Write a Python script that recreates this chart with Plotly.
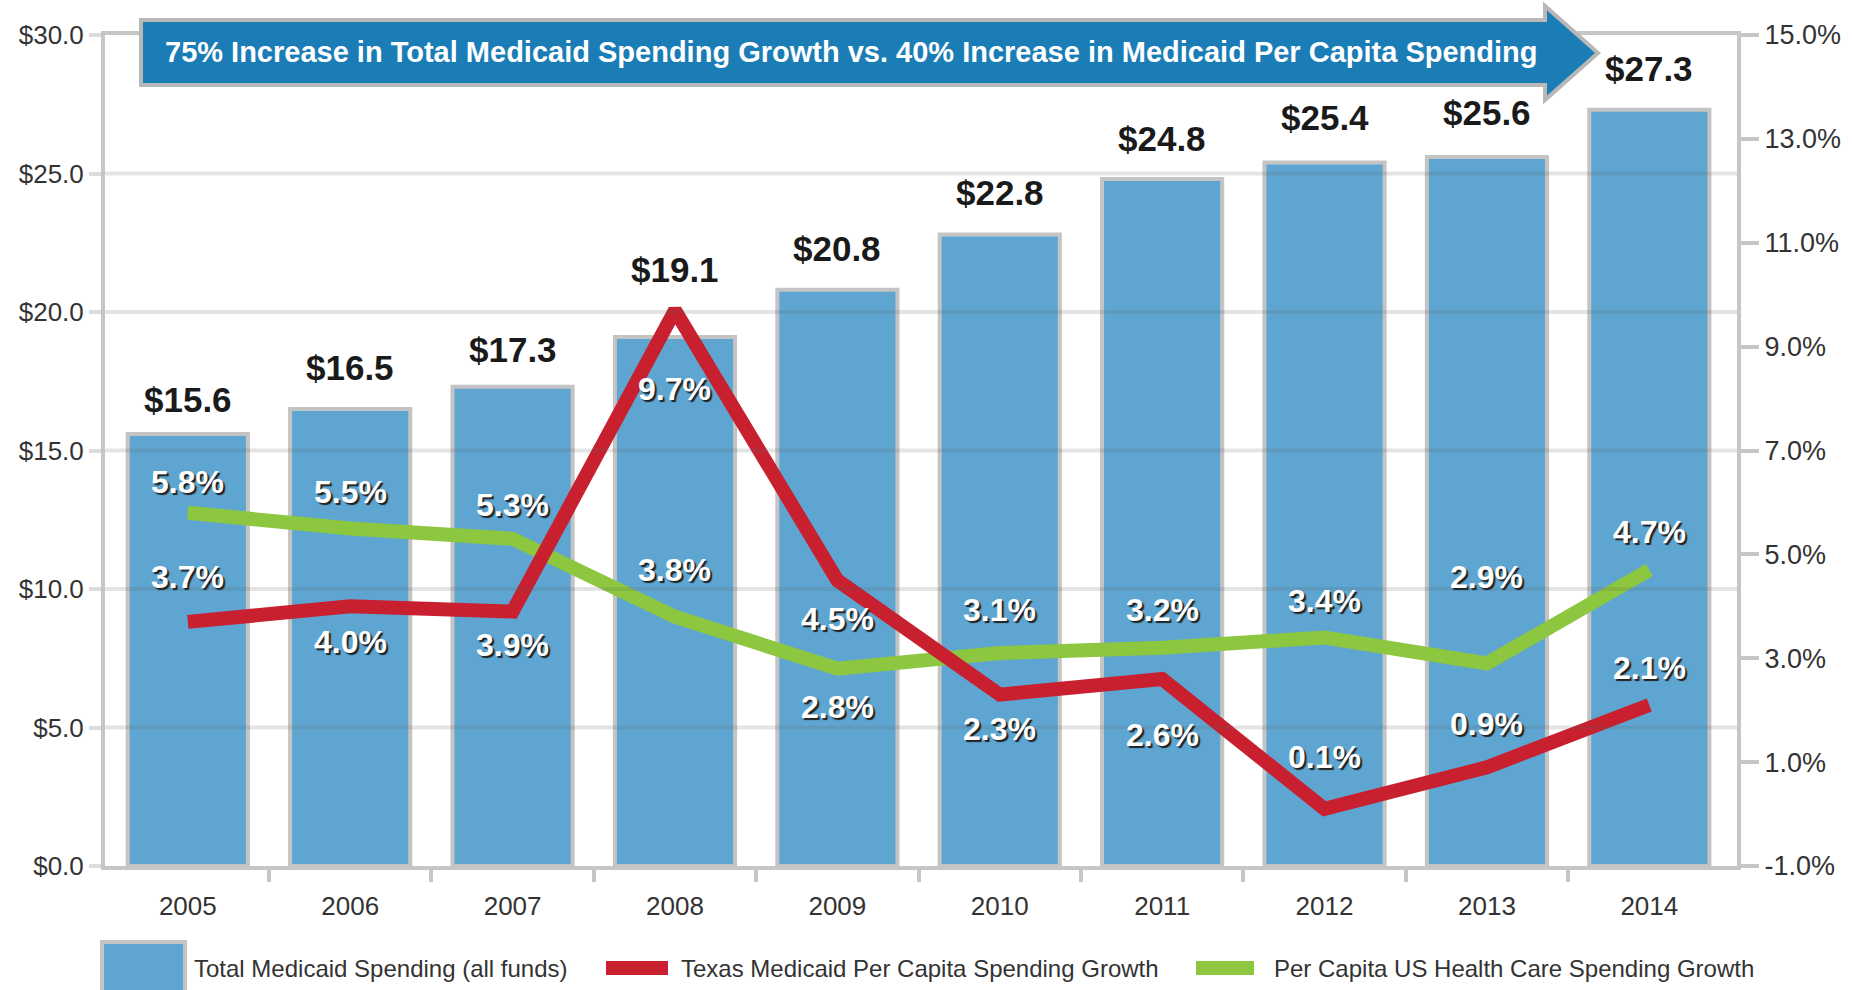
import plotly.graph_objects as go

# ---------------- data ----------------
years = [2005, 2006, 2007, 2008, 2009, 2010, 2011, 2012, 2013, 2014]
total_spending = [15.6, 16.5, 17.3, 19.1, 20.8, 22.8, 24.8, 25.4, 25.6, 27.3]   # $ billions
texas_growth = [3.7, 4.0, 3.9, 9.7, 4.5, 2.3, 2.6, 0.1, 0.9, 2.1]               # %
us_growth = [5.8, 5.5, 5.3, 3.8, 2.8, 3.1, 3.2, 3.4, 2.9, 4.7]                  # %
left_ticks = [0, 5, 10, 15, 20, 25, 30]
left_tick_text = ["$0.0", "$5.0", "$10.0", "$15.0", "$20.0", "$25.0", "$30.0"]
right_ticks = [-1, 1, 3, 5, 7, 9, 11, 13, 15]
right_tick_text = ["-1.0%", "1.0%", "3.0%", "5.0%", "7.0%", "9.0%", "11.0%", "13.0%", "15.0%"]
series_names = ["Total Medicaid Spending (all funds)",
                "Texas Medicaid Per Capita Spending Growth",
                "Per Capita US Health Care Spending Growth"]
header_text = ("75% Increase in Total Medicaid Spending Growth vs. "
               "40% Increase in Medicaid Per Capita Spending")

# ---------------- label placement (pixels, layout only) ----------------
spend_label_lift = [15, 22, 18, 48, 22, 22, 21, 25, 25, 22]
texas_label_shift = [45, -36, -33, -79, -39, -34, -56, 52, 43, 37]
us_label_shift = [31, 36, 34, 47, -38, 43, 38, 36, 86, 38]

# ---------------- style ----------------
W, H = 1852, 990
ML, MR, MT, MB = 105, 115, 35, 124
PW, PH = W - ML - MR, H - MT - MB
FONT = "Liberation Sans, Arial, sans-serif"
BAR_BLUE = "#5ea6d1"
RED = "#c8202f"
GREEN = "#8dc63f"
GRAY_LINE = "#c6c6c6"
TEXT = "#333333"


def px(xp):
    return (xp - ML) / PW


def py(yp):
    return (MT + PH - yp) / PH


fig = go.Figure()
fig.add_trace(go.Bar(
    x=years, y=total_spending, name=series_names[0], width=0.74,
    marker=dict(color=BAR_BLUE, line=dict(color="#c4c4c4", width=4)),
    showlegend=False))
fig.add_trace(go.Scatter(
    x=years, y=us_growth, yaxis="y2", mode="lines", name=series_names[2],
    line=dict(color=GREEN, width=14), showlegend=False))
fig.add_trace(go.Scatter(
    x=years, y=texas_growth, yaxis="y2", mode="lines", name=series_names[1],
    line=dict(color=RED, width=14), showlegend=False))

annotations = []
for yr, v, lift in zip(years, total_spending, spend_label_lift):
    annotations.append(dict(
        x=yr, y=v, xref="x", yref="y", text=f"${v:.1f}", showarrow=False,
        yanchor="bottom", yshift=lift - 2,
        font=dict(family=FONT, size=35, color="#1a1a1a", weight="bold")))

pct_font = dict(family=FONT, size=32, color="white", weight="bold",
                shadow="2px 2px 1px #222222")
for yr, v, sh in zip(years, us_growth, us_label_shift):
    annotations.append(dict(x=yr, y=v, xref="x", yref="y2", text=f"{v:.1f}%",
                            showarrow=False, yshift=sh, font=pct_font))
for yr, v, sh in zip(years, texas_growth, texas_label_shift):
    annotations.append(dict(x=yr, y=v, xref="x", yref="y2", text=f"{v:.1f}%",
                            showarrow=False, yshift=sh, font=pct_font))

# header arrow text
annotations.append(dict(
    x=px(851), y=py(52), xref="paper", yref="paper", text=header_text,
    showarrow=False, xanchor="center", yanchor="middle",
    font=dict(family=FONT, size=29, color="white", weight="bold")))

# custom legend texts
leg_y = py(968)
for xpos, name in zip([192, 679, 1272], series_names):
    annotations.append(dict(
        x=px(xpos), y=leg_y, xref="paper", yref="paper", text=name,
        showarrow=False, xanchor="left", yanchor="middle",
        font=dict(family=FONT, size=24, color=TEXT)))

shapes = []
# grid lines drawn semi-transparently over the bars, as in the reference
for t in left_ticks[1:-1]:
    shapes.append(dict(type="line", xref="paper", yref="y", x0=0, x1=1, y0=t, y1=t,
                       line=dict(color="rgba(95,95,95,0.17)", width=4), layer="above"))
# header arrow
arrow_path = (f"M{px(141)},{py(20)} L{px(1545)},{py(20)} L{px(1545)},{py(6)} "
              f"L{px(1598)},{py(53)} L{px(1545)},{py(100)} L{px(1545)},{py(85)} "
              f"L{px(141)},{py(85)} Z")
shapes.append(dict(type="path", path=arrow_path, xref="paper", yref="paper",
                   fillcolor="#1b7db5", line=dict(color="#b8b8b8", width=4),
                   layer="above"))
# legend swatches
shapes.append(dict(type="rect", xref="paper", yref="paper",
                   x0=px(102), x1=px(185), y0=py(942), y1=py(995),
                   fillcolor=BAR_BLUE, line=dict(color="#c4c4c4", width=4)))
shapes.append(dict(type="line", xref="paper", yref="paper",
                   x0=px(606), x1=px(668), y0=leg_y, y1=leg_y,
                   line=dict(color=RED, width=14)))
shapes.append(dict(type="line", xref="paper", yref="paper",
                   x0=px(1196), x1=px(1254), y0=leg_y, y1=leg_y,
                   line=dict(color=GREEN, width=14)))

fig.update_layout(
    width=W, height=H,
    margin=dict(l=ML, r=MR, t=MT, b=MB, pad=0),
    paper_bgcolor="white", plot_bgcolor="white",
    font=dict(family=FONT, size=26, color=TEXT),
    annotations=annotations, shapes=shapes,
    xaxis=dict(range=[2004.49, 2014.54], tickvals=years, ticks="",
               showline=True, mirror=True, linecolor=GRAY_LINE, linewidth=4,
               showgrid=False, zeroline=False,
               tickfont=dict(family=FONT, size=26, color=TEXT),
               ticklabelstandoff=14,
               minor=dict(tickvals=[y + 0.5 for y in years[:-1]], ticks="outside",
                          ticklen=12, tickwidth=4, tickcolor=GRAY_LINE, showgrid=False)),
    yaxis=dict(range=[0, 30], tickvals=left_ticks, ticktext=left_tick_text,
               ticks="outside", ticklen=12, tickwidth=4, tickcolor="#dcdcdc",
               showgrid=False,
               showline=True, linecolor=GRAY_LINE, linewidth=4, zeroline=False,
               tickfont=dict(family=FONT, size=26, color=TEXT)),
    yaxis2=dict(range=[-1, 15], tickvals=right_ticks, ticktext=right_tick_text,
                overlaying="y", side="right",
                ticks="outside", ticklen=18, tickwidth=4, tickcolor=GRAY_LINE,
                showgrid=False, showline=True, linecolor=GRAY_LINE, linewidth=4,
                zeroline=False, tickfont=dict(family=FONT, size=27, color=TEXT)),
)

fig.write_html("out.html", config={"displayModeBar": False},
               post_script="document.body.style.margin='0';")
